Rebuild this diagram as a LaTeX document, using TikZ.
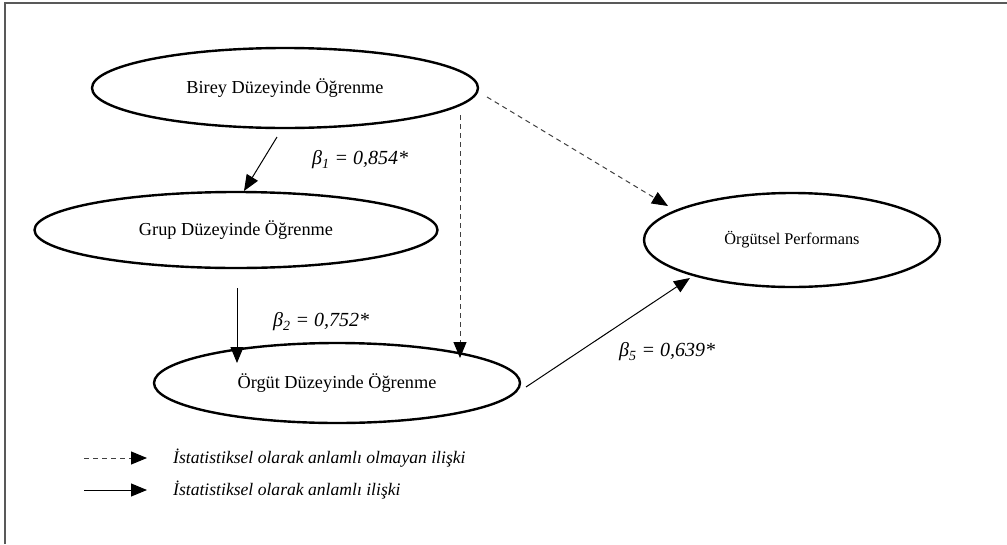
\documentclass[tikz,border=0pt]{standalone}
\usepackage{fontspec}
\setmainfont{Liberation Serif}
\usetikzlibrary{shapes.geometric,arrows.meta}
\begin{document}
\begin{tikzpicture}[x=1pt,y=-1pt,
  oval/.style={ellipse,draw,line width=2.4pt,inner sep=0pt,font=\fontsize{18.3}{20}\selectfont},
  solidarr/.style={line width=1pt,-{Triangle[length=16pt,width=13pt]}},
  dasharr/.style={line width=1pt,dash pattern=on 5pt off 4pt,draw=black!75,-{Triangle[length=16pt,width=13pt,color=black,fill=black]}},
  lab/.style={font=\itshape\fontsize{20}{22}\selectfont,anchor=west,inner sep=0pt},
  leg/.style={font=\itshape\fontsize{17.6}{20}\selectfont,anchor=west,inner sep=0pt},
  frame/.style={draw=black!65,line width=2pt}]
\useasboundingbox (0,0) rectangle (1007,544);
\draw[frame] (5,544) -- (5,3) -- (1007,3);

\node[oval,minimum width=386pt,minimum height=80pt] (birey) at (285,88) {Birey Düzeyinde Öğrenme};
\node[oval,minimum width=403pt,minimum height=76pt] (grup) at (236,230) {Grup Düzeyinde Öğrenme};
\node[oval,minimum width=366pt,minimum height=80pt] (orgut) at (337,383) {Örgüt Düzeyinde Öğrenme};
\node[oval,minimum width=296pt,minimum height=94pt,font=\fontsize{16.3}{20}\selectfont] (perf) at (792,240) {Örgütsel Performans};

\coordinate (a1) at (277,137); \coordinate (a2) at (244,191);
\coordinate (b1) at (237,288); \coordinate (b2) at (237,363);
\coordinate (c1) at (460,115); \coordinate (c2) at (460,358);
\coordinate (d1) at (487,97);  \coordinate (d2) at (668,206);
\coordinate (e1) at (526,387); \coordinate (e2) at (690,278);

\draw[solidarr] (a1) -- (a2);
\draw[solidarr] (b1) -- (b2);
\draw[dasharr] (c1) -- (c2);
\draw[dasharr] (d1) -- (d2);
\draw[solidarr] (e1) -- (e2);

\node[lab] (l1) at (312,160) {β\textsubscript{1} = 0,854*};
\node[lab] (l2) at (273,322) {β\textsubscript{2} = 0,752*};
\node[lab] (l5) at (619,352) {β\textsubscript{5} = 0,639*};

\coordinate (g1) at (84,458); \coordinate (g2) at (147,458);
\coordinate (h1) at (84,490); \coordinate (h2) at (147,490);
\draw[dasharr] (g1) -- (g2);
\draw[solidarr] (h1) -- (h2);
\node[leg] (t1) at (173,458) {İstatistiksel olarak anlamlı olmayan ilişki};
\node[leg] (t2) at (173,490) {İstatistiksel olarak anlamlı ilişki};
\end{tikzpicture}
\end{document}
